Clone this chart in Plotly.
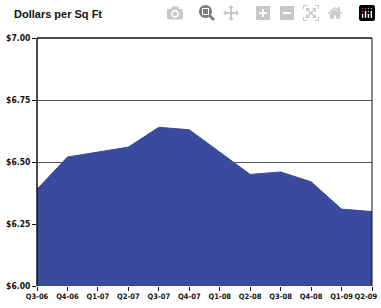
import plotly.graph_objects as go

quarters = ["Q3-06", "Q4-06", "Q1-07", "Q2-07", "Q3-07", "Q4-07",
            "Q1-08", "Q2-08", "Q3-08", "Q4-08", "Q1-09", "Q2-09"]
values = [6.39, 6.52, 6.54, 6.56, 6.64, 6.63, 6.54, 6.45, 6.46, 6.42, 6.31, 6.30]
y_ticks = [6.00, 6.25, 6.50, 6.75, 7.00]
y_labels = ["$6.00", "$6.25", "$6.50", "$6.75", "$7.00"]

FONT = "DejaVu Sans Condensed, Liberation Sans Narrow, sans-serif"

xs = list(range(len(quarters)))
# label positions: the last label is nudged inward so it fits the page
label_pos = xs[:-1] + [xs[-1] - 0.2]

fig = go.Figure()
fig.add_trace(go.Scatter(
    x=xs, y=values, mode="lines",
    fill="tozeroy", fillcolor="#3a4a9e",
    line=dict(color="#3a4a9e", width=1), hoverinfo="skip",
))

fig.update_layout(
    width=381, height=308,
    margin=dict(l=37, r=9, t=38, b=22, autoexpand=False),
    paper_bgcolor="white", plot_bgcolor="white",
    showlegend=False,
    annotations=[dict(
        text="<b>Dollars per Sq Ft</b>", xref="paper", yref="paper",
        x=-0.075, y=1.0, xanchor="left", yanchor="middle", yshift=24,
        showarrow=False, font=dict(family="Liberation Sans, Arial, sans-serif", size=11, color="#111"),
    )],
    shapes=[
        dict(type="line", xref="paper", yref="paper", x0=0, x1=0, y0=0, y1=1,
             line=dict(color="#111", width=1.5), layer="above"),
        dict(type="line", xref="paper", yref="paper", x0=1, x1=1, y0=0, y1=1,
             line=dict(color="#111", width=1), layer="above"),
        dict(type="line", xref="paper", yref="paper", x0=0, x1=1, y0=1, y1=1,
             line=dict(color="#111", width=1.5), layer="above"),
    ],
)
fig.update_xaxes(
    range=[0, len(quarters) - 1],
    tickmode="array", tickvals=label_pos, ticktext=quarters,
    tickangle=0, automargin=False,
    showgrid=False, zeroline=False, showline=False,
    ticks="", ticklabelstandoff=4,
    minor=dict(tickmode="array", tickvals=xs, ticks="outside", ticklen=4,
               tickcolor="#111", showgrid=False),
    ticklabeloverflow="allow",
    tickfont=dict(family=FONT, size=7.5, color="#111", weight="bold"),
)
fig.update_yaxes(
    range=[6.0, 7.0],
    tickmode="array", tickvals=y_ticks, ticktext=y_labels,
    showgrid=True, gridcolor="#555", gridwidth=1, zeroline=False,
    showline=False, automargin=False,
    ticks="outside", ticklen=4, tickcolor="#111",
    tickfont=dict(family=FONT, size=8.5, color="#111", weight="bold"),
    layer="below traces",
)
fig.write_html("out.html", post_script="document.body.style.margin='0';document.body.style.overflow='hidden';")
